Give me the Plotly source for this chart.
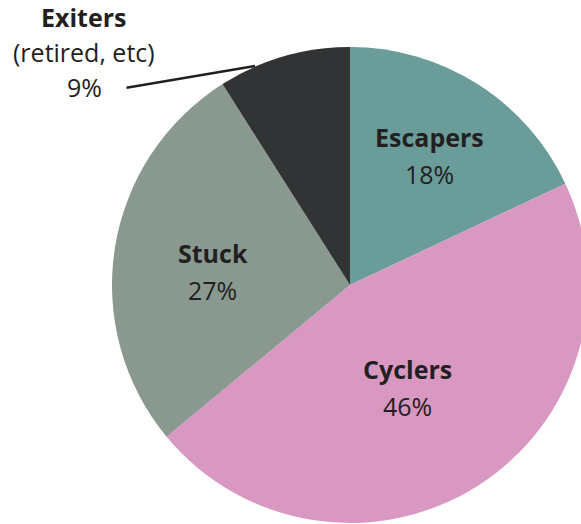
import math
import plotly.graph_objects as go

labels = ["Escapers", "Cyclers", "Stuck", "Exiters"]
values = [18, 46, 27, 9]
pct_labels = ["18%", "46%", "27%", "9%"]
colors = ["#6a9c9a", "#d898c2", "#8a9990", "#313335"]
label_radius = [0.64, 0.49, 0.58, None]  # fraction of pie radius for inside labels
label_angle_shift = [-1.0, 3.0, -3.0, 0.0]  # degrees, fine-tuning of label placement

FONT = "Open Sans"
TXT = "#231f20"
FS = 25

fig = go.Figure(go.Pie(
    labels=labels, values=values, sort=False, direction="clockwise", rotation=0,
    marker=dict(colors=colors, line=dict(width=0)),
    textinfo="none", hoverinfo="skip", showlegend=False,
    domain=dict(x=[0, 1], y=[0, 1]),
))

W, H = 600, 524
ml, mr, mt, mb = 112, 12, 47, 1
pw, ph = W - ml - mr, H - mt - mb

annotations = []
total = sum(values)
cum = 0
for lab, v, p, rf, da in zip(labels, values, pct_labels, label_radius, label_angle_shift):
    mid = (cum + v / 2) / total * 2 * math.pi + math.radians(da)
    cum += v
    if rf is None:
        continue
    x = 0.5 + 0.5 * rf * math.sin(mid) * ph / pw
    y = 0.5 + 0.5 * rf * math.cos(mid)
    annotations.append(dict(x=x, y=y, xref="paper", yref="paper", text="<b>" + lab + "</b>",
                            xanchor="center", yanchor="middle",
                            showarrow=False, yshift=18, font=dict(family=FONT, size=FS, color=TXT)))
    annotations.append(dict(x=x, y=y, xref="paper", yref="paper", text=p,
                            xanchor="center", yanchor="middle",
                            showarrow=False, yshift=-19, font=dict(family=FONT, size=FS, color=TXT)))

# Exiters outside label
ex_x = (84 - ml) / pw
ex_y = (523 - 52) / ph
for txt, ys in [("<b>Exiters</b>", 35), ("(retired, etc)", 0), (pct_labels[3], -35)]:
    annotations.append(dict(x=ex_x, y=ex_y, xref="paper", yref="paper", text=txt, showarrow=False,
                            xanchor="center", yanchor="middle",
                            yshift=ys, font=dict(family=FONT, size=FS, color=TXT)))
# leader line
annotations.append(dict(x=(255 - ml) / pw, y=(523 - 66) / ph, xref="paper", yref="paper", text="",
                        showarrow=True, arrowhead=0, arrowwidth=2.4, arrowcolor=TXT,
                        ax=-130, ay=22))

fig.update_layout(
    width=W, height=H, margin=dict(l=ml, r=mr, t=mt, b=mb),
    paper_bgcolor="white", plot_bgcolor="white",
    annotations=annotations,
)

fig.write_html("out.html", config={"displayModeBar": False},
               post_script="document.body.style.margin='0';document.body.style.overflow='hidden';")
